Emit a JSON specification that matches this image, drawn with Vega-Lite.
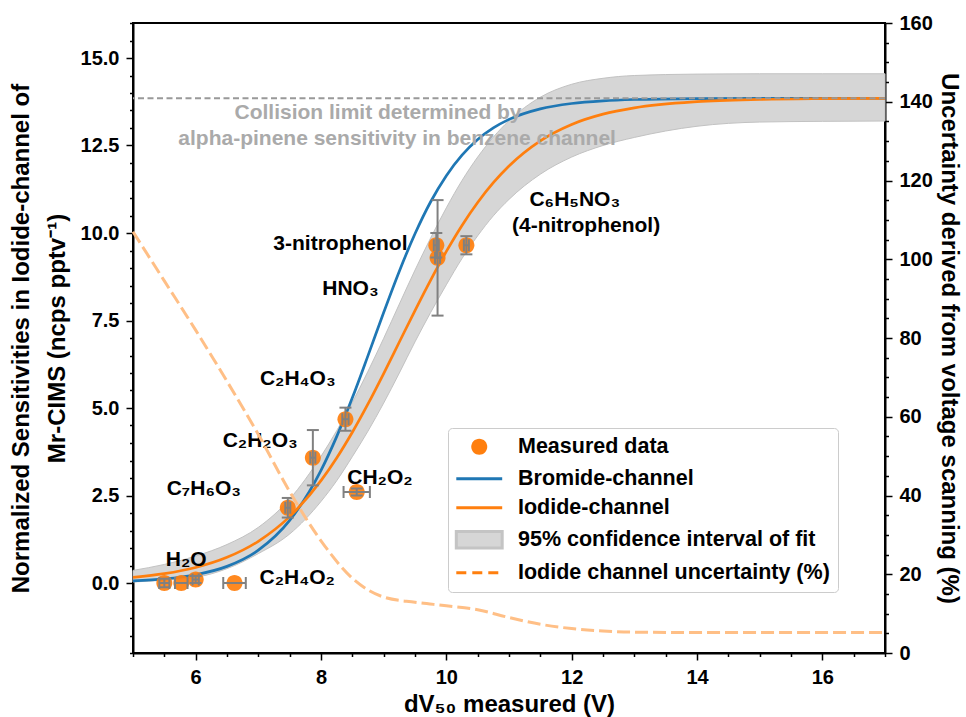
{
  "$schema": "https://vega.github.io/schema/vega-lite/v6.json",
  "width": 752,
  "height": 630,
  "autosize": {"type": "none"},
  "padding": {"left": 133, "top": 23, "right": 81, "bottom": 64},
  "background": "white",
  "config": {
    "font": "Liberation Sans",
    "view": {"stroke": "black", "strokeWidth": 2},
    "axis": {
      "domainColor": "black", "domainWidth": 2, "tickColor": "black", "tickWidth": 1.5,
      "labelColor": "black", "labelFontSize": 20, "labelFontWeight": "bold", "labelFont": "Liberation Sans",
      "titleFontSize": 24, "titleFontWeight": "bold", "titleColor": "black", "titleFont": "Liberation Sans",
      "grid": false, "labelOverlap": false, "labelFlush": false, "labelPadding": 6
    }
  },
  "datasets": {
    "curves": [
      {"x": 5, "orange": 0.159, "blue": 0.058, "upper": 0.36, "lower": 0.03},
      {"x": 5.5, "orange": 0.267, "blue": 0.117, "upper": 0.53, "lower": 0.08},
      {"x": 6, "orange": 0.444, "blue": 0.237, "upper": 0.77, "lower": 0.16},
      {"x": 6.5, "orange": 0.733, "blue": 0.475, "upper": 1.1, "lower": 0.41},
      {"x": 7, "orange": 1.192, "blue": 0.937, "upper": 1.59, "lower": 0.84},
      {"x": 7.5, "orange": 1.897, "blue": 1.788, "upper": 2.4, "lower": 1.4},
      {"x": 8, "orange": 2.925, "blue": 3.218, "upper": 3.62, "lower": 2.33},
      {"x": 8.25, "orange": 3.572, "blue": 4.182, "upper": 4.35, "lower": 2.92},
      {"x": 8.5, "orange": 4.308, "blue": 5.29, "upper": 5.16, "lower": 3.61},
      {"x": 8.75, "orange": 5.118, "blue": 6.496, "upper": 6.05, "lower": 4.34},
      {"x": 9, "orange": 5.985, "blue": 7.729, "upper": 6.99, "lower": 5.14},
      {"x": 9.25, "orange": 6.885, "blue": 8.91, "upper": 7.97, "lower": 6.0},
      {"x": 9.5, "orange": 7.785, "blue": 9.978, "upper": 8.94, "lower": 6.89},
      {"x": 9.75, "orange": 8.656, "blue": 10.893, "upper": 9.86, "lower": 7.73},
      {"x": 10, "orange": 9.473, "blue": 11.639, "upper": 10.72, "lower": 8.52},
      {"x": 10.25, "orange": 10.217, "blue": 12.225, "upper": 11.5, "lower": 9.27},
      {"x": 10.5, "orange": 10.872, "blue": 12.672, "upper": 12.17, "lower": 9.92},
      {"x": 10.75, "orange": 11.437, "blue": 13.003, "upper": 12.74, "lower": 10.49},
      {"x": 11, "orange": 11.914, "blue": 13.247, "upper": 13.21, "lower": 10.96},
      {"x": 11.5, "orange": 12.633, "blue": 13.548, "upper": 13.88, "lower": 11.68},
      {"x": 12, "orange": 13.102, "blue": 13.7, "upper": 14.25, "lower": 12.17},
      {"x": 12.5, "orange": 13.396, "blue": 13.776, "upper": 14.42, "lower": 12.5},
      {"x": 13, "orange": 13.577, "blue": 13.814, "upper": 14.5, "lower": 12.73},
      {"x": 14, "orange": 13.753, "blue": 13.841, "upper": 14.54, "lower": 13.05},
      {"x": 15, "orange": 13.816, "blue": 13.848, "upper": 14.55, "lower": 13.17},
      {"x": 16, "orange": 13.838, "blue": 13.85, "upper": 14.55, "lower": 13.19},
      {"x": 17, "orange": 13.846, "blue": 13.85, "upper": 14.55, "lower": 13.2}
    ],
    "points": [
      {"x": 5.5, "y": 0.0, "series": "Measured data"},
      {"x": 5.77, "y": 0.0, "series": "Measured data"},
      {"x": 6.0, "y": 0.1, "series": "Measured data"},
      {"x": 6.62, "y": 0.0, "series": "Measured data"},
      {"x": 7.47, "y": 2.15, "series": "Measured data"},
      {"x": 7.87, "y": 3.58, "series": "Measured data"},
      {"x": 8.39, "y": 4.68, "series": "Measured data"},
      {"x": 8.57, "y": 2.6, "series": "Measured data"},
      {"x": 9.84, "y": 9.65, "series": "Measured data"},
      {"x": 9.86, "y": 9.29, "series": "Measured data"},
      {"x": 10.32, "y": 9.65, "series": "Measured data"}
    ],
    "yerr": [
      {"x": 5.5, "ylo": -0.12, "yhi": 0.12},
      {"x": 6.0, "ylo": 0.0, "yhi": 0.2},
      {"x": 7.47, "ylo": 1.87, "yhi": 2.43},
      {"x": 7.87, "ylo": 2.79, "yhi": 4.37},
      {"x": 8.39, "ylo": 4.35, "yhi": 5.01},
      {"x": 8.57, "ylo": 2.5, "yhi": 2.7},
      {"x": 9.84, "ylo": 9.3, "yhi": 10.0},
      {"x": 9.86, "ylo": 7.64, "yhi": 10.94},
      {"x": 10.32, "ylo": 9.39, "yhi": 9.91}
    ],
    "xerr": [
      {"y": 0.0, "xlo": 5.42, "xhi": 5.58},
      {"y": 0.0, "xlo": 5.67, "xhi": 5.87},
      {"y": 0.1, "xlo": 5.95, "xhi": 6.05},
      {"y": 0.0, "xlo": 6.44, "xhi": 6.8},
      {"y": 2.15, "xlo": 7.43, "xhi": 7.51},
      {"y": 3.58, "xlo": 7.83, "xhi": 7.91},
      {"y": 4.68, "xlo": 8.34, "xhi": 8.44},
      {"y": 2.6, "xlo": 8.36, "xhi": 8.78},
      {"y": 9.65, "xlo": 9.8, "xhi": 9.88},
      {"y": 9.29, "xlo": 9.82, "xhi": 9.9},
      {"y": 9.65, "xlo": 10.28, "xhi": 10.36}
    ],
    "labels": [
      {"x": 8.31, "y": 9.7, "label": "3-nitrophenol"},
      {"x": 8.47, "y": 8.41, "label": "HNO₃"},
      {"x": 7.63, "y": 5.83, "label": "C₂H₄O₃"},
      {"x": 7.03, "y": 4.06, "label": "C₂H₂O₃"},
      {"x": 6.13, "y": 2.68, "label": "C₇H₆O₃"},
      {"x": 8.94, "y": 3.01, "label": "CH₂O₂"},
      {"x": 5.85, "y": 0.67, "label": "H₂O"},
      {"x": 7.62, "y": 0.14, "label": "C₂H₄O₂"},
      {"x": 12.05, "y": 10.94, "label": "C₆H₅NO₃"},
      {"x": 12.23, "y": 10.19, "label": "(4-nitrophenol)"}
    ],
    "notes": [
      {"x": 8.91, "y": 13.42, "label": "Collision limit determined by"},
      {"x": 9.215, "y": 12.7, "label": "alpha-pinene sensitivity in benzene channel"}
    ],
    "limit": [{"y": 13.85}],
    "unc": [
      {"x": 5, "u": 107},
      {"x": 5.5, "u": 94.5},
      {"x": 6, "u": 82},
      {"x": 6.5, "u": 69},
      {"x": 7, "u": 55.5},
      {"x": 7.5, "u": 41},
      {"x": 8, "u": 28.5},
      {"x": 8.5, "u": 19},
      {"x": 9, "u": 14.2},
      {"x": 9.5, "u": 12.9},
      {"x": 10, "u": 12},
      {"x": 10.5, "u": 11},
      {"x": 11, "u": 9},
      {"x": 11.5, "u": 7.3},
      {"x": 12, "u": 6.2},
      {"x": 12.5, "u": 5.6},
      {"x": 13, "u": 5.3},
      {"x": 14, "u": 5.2},
      {"x": 15, "u": 5.2},
      {"x": 16, "u": 5.2},
      {"x": 17, "u": 5.2}
    ]
  },
  "layer": [
    {
      "layer": [
        {
          "data": {"name": "curves"},
          "mark": {"type": "area", "fill": "#d6d6d6", "stroke": "#c2c2c2", "strokeWidth": 1, "interpolate": "monotone"},
          "encoding": {
            "x": {"field": "x", "type": "quantitative", "scale": {"domain": [5, 17], "nice": false, "zero": false},
              "axis": {
                "values": [5, 5.5, 6, 6.5, 7, 7.5, 8, 8.5, 9, 9.5, 10, 10.5, 11, 11.5, 12, 12.5, 13, 13.5, 14, 14.5, 15, 15.5, 16, 16.5, 17],
                "tickCount": 25,
                "labelExpr": "datum.value % 2 === 0 ? format(datum.value, 'd') : ''",
                "tickSize": {"condition": {"test": "datum.value % 2 === 0", "value": 7}, "value": 3.5},
                "labelFontSize": {"condition": {"test": "datum.value % 2 === 0", "value": 20}, "value": 0},
                "labelOverlap": false,
                "title": "dV₅₀ measured (V)", "titlePadding": 5, "labelPadding": 7
              }},
            "y": {"field": "upper", "type": "quantitative", "scale": {"domain": [-2, 16], "nice": false, "zero": false},
              "axis": {
                "values": [-2, -1.5, -1, -0.5, 0, 0.5, 1, 1.5, 2, 2.5, 3, 3.5, 4, 4.5, 5, 5.5, 6, 6.5, 7, 7.5, 8, 8.5, 9, 9.5, 10, 10.5, 11, 11.5, 12, 12.5, 13, 13.5, 14, 14.5, 15, 15.5, 16],
                "tickCount": 37,
                "labelExpr": "datum.value % 2.5 === 0 ? format(datum.value, '.1f') : ''",
                "tickSize": {"condition": {"test": "datum.value % 2.5 === 0", "value": 7}, "value": 3.5},
                "labelFontSize": {"condition": {"test": "datum.value % 2.5 === 0", "value": 20}, "value": 0},
                "labelOverlap": false,
                "title": ["Normalized Sensitivities in Iodide-channel of", "Mr-CIMS (ncps pptv⁻¹)"],
                "titleLineHeight": 36, "titlePadding": 11, "labelPadding": 7
              }},
            "y2": {"field": "lower"}
          }
        },
        {
          "data": {"name": "curves"},
          "mark": {"type": "line", "color": "#1f77b4", "strokeWidth": 2.7, "interpolate": "monotone"},
          "encoding": {
            "x": {"field": "x", "type": "quantitative"},
            "y": {"field": "blue", "type": "quantitative"}
          }
        },
        {
          "data": {"name": "curves"},
          "mark": {"type": "line", "color": "#ff7f0e", "strokeWidth": 2.7, "interpolate": "monotone"},
          "encoding": {
            "x": {"field": "x", "type": "quantitative"},
            "y": {"field": "orange", "type": "quantitative"}
          }
        },
        {
          "data": {"name": "points"},
          "mark": {"type": "point", "filled": true, "opacity": 0.92, "size": 324},
          "encoding": {
            "x": {"field": "x", "type": "quantitative"},
            "y": {"field": "y", "type": "quantitative"},
            "shape": {
              "field": "series", "type": "nominal",
              "scale": {
                "domain": ["Measured data", "Bromide-channel", "Iodide-channel", "95% confidence interval of fit", "Iodide channel uncertainty (%)"],
                "range": ["M0.89,0A0.89,0.89,0,1,1,-0.89,0A0.89,0.89,0,1,1,0.89,0Z", "M-2.55,0L2.55,0", "M-2.55,0L2.55,0", "M-2.55,-0.92L2.55,-0.92L2.55,0.92L-2.55,0.92Z", "M-2.55,0L2.55,0"]
              },
              "legend": {
                "title": null, "orient": "none", "legendX": 315, "legendY": 405, "direction": "vertical",
                "fillColor": "rgba(255,255,255,0.85)", "strokeColor": "#cccccc", "cornerRadius": 4, "padding": 8,
                "labelFont": "Liberation Sans", "labelFontSize": 21.5, "labelFontWeight": "bold", "labelColor": "black", "labelLimit": 500,
                "labelOffset": 28, "symbolOffset": 12.5, "rowPadding": 6, "symbolSize": 324, "symbolStrokeWidth": 3, "symbolOpacity": 1
              }
            },
            "fill": {
              "field": "series", "type": "nominal",
              "scale": {
                "domain": ["Measured data", "Bromide-channel", "Iodide-channel", "95% confidence interval of fit", "Iodide channel uncertainty (%)"],
                "range": ["#ff7f0e", "transparent", "transparent", "#d6d6d6", "transparent"]
              },
              "legend": {
                "title": null, "orient": "none", "legendX": 315, "legendY": 405, "direction": "vertical",
                "fillColor": "rgba(255,255,255,0.85)", "strokeColor": "#cccccc", "cornerRadius": 4, "padding": 8,
                "labelFont": "Liberation Sans", "labelFontSize": 21.5, "labelFontWeight": "bold", "labelColor": "black", "labelLimit": 500,
                "labelOffset": 28, "symbolOffset": 12.5, "rowPadding": 6, "symbolSize": 324, "symbolStrokeWidth": 3, "symbolOpacity": 1
              }
            },
            "stroke": {
              "field": "series", "type": "nominal",
              "scale": {
                "domain": ["Measured data", "Bromide-channel", "Iodide-channel", "95% confidence interval of fit", "Iodide channel uncertainty (%)"],
                "range": ["transparent", "#1f77b4", "#ff7f0e", "#c4c4c4", "#ff7f0e"]
              },
              "legend": {
                "title": null, "orient": "none", "legendX": 315, "legendY": 405, "direction": "vertical",
                "fillColor": "rgba(255,255,255,0.85)", "strokeColor": "#cccccc", "cornerRadius": 4, "padding": 8,
                "labelFont": "Liberation Sans", "labelFontSize": 21.5, "labelFontWeight": "bold", "labelColor": "black", "labelLimit": 500,
                "labelOffset": 28, "symbolOffset": 12.5, "rowPadding": 6, "symbolSize": 324, "symbolStrokeWidth": 3, "symbolOpacity": 1
              }
            },
            "strokeDash": {
              "field": "series", "type": "nominal",
              "scale": {
                "domain": ["Measured data", "Bromide-channel", "Iodide-channel", "95% confidence interval of fit", "Iodide channel uncertainty (%)"],
                "range": [[1, 0], [1, 0], [1, 0], [1, 0], [10, 6]]
              },
              "legend": {
                "title": null, "orient": "none", "legendX": 315, "legendY": 405, "direction": "vertical",
                "fillColor": "rgba(255,255,255,0.85)", "strokeColor": "#cccccc", "cornerRadius": 4, "padding": 8,
                "labelFont": "Liberation Sans", "labelFontSize": 21.5, "labelFontWeight": "bold", "labelColor": "black", "labelLimit": 500,
                "labelOffset": 28, "symbolOffset": 12.5, "rowPadding": 6, "symbolSize": 324, "symbolStrokeWidth": 3, "symbolOpacity": 1
              }
            }
          }
        },
        {
          "data": {"name": "yerr"},
          "mark": {"type": "rule", "color": "#808080", "strokeWidth": 2},
          "encoding": {
            "x": {"field": "x", "type": "quantitative"},
            "y": {"field": "ylo", "type": "quantitative"},
            "y2": {"field": "yhi"}
          }
        },
        {
          "data": {"name": "yerr"},
          "mark": {"type": "tick", "orient": "horizontal", "color": "#808080", "size": 12, "thickness": 2, "opacity": 1},
          "encoding": {
            "x": {"field": "x", "type": "quantitative"},
            "y": {"field": "ylo", "type": "quantitative"}
          }
        },
        {
          "data": {"name": "yerr"},
          "mark": {"type": "tick", "orient": "horizontal", "color": "#808080", "size": 12, "thickness": 2, "opacity": 1},
          "encoding": {
            "x": {"field": "x", "type": "quantitative"},
            "y": {"field": "yhi", "type": "quantitative"}
          }
        },
        {
          "data": {"name": "xerr"},
          "mark": {"type": "rule", "color": "#808080", "strokeWidth": 2},
          "encoding": {
            "y": {"field": "y", "type": "quantitative"},
            "x": {"field": "xlo", "type": "quantitative"},
            "x2": {"field": "xhi"}
          }
        },
        {
          "data": {"name": "xerr"},
          "mark": {"type": "tick", "orient": "vertical", "color": "#808080", "size": 12, "thickness": 2, "opacity": 1},
          "encoding": {
            "y": {"field": "y", "type": "quantitative"},
            "x": {"field": "xlo", "type": "quantitative"}
          }
        },
        {
          "data": {"name": "xerr"},
          "mark": {"type": "tick", "orient": "vertical", "color": "#808080", "size": 12, "thickness": 2, "opacity": 1},
          "encoding": {
            "y": {"field": "y", "type": "quantitative"},
            "x": {"field": "xhi", "type": "quantitative"}
          }
        },
        {
          "data": {"name": "limit"},
          "mark": {"type": "rule", "color": "#999999", "strokeWidth": 2, "strokeDash": [6, 3.5]},
          "encoding": {
            "y": {"field": "y", "type": "quantitative"}
          }
        },
        {
          "data": {"name": "labels"},
          "mark": {"type": "text", "font": "Liberation Sans", "fontSize": 21, "fontWeight": "bold", "color": "black", "align": "center", "baseline": "middle"},
          "encoding": {
            "x": {"field": "x", "type": "quantitative"},
            "y": {"field": "y", "type": "quantitative"},
            "text": {"field": "label"}
          }
        },
        {
          "data": {"name": "notes"},
          "mark": {"type": "text", "font": "Liberation Sans", "fontSize": 21, "fontWeight": "bold", "color": "#aaaaaa", "align": "center", "baseline": "middle"},
          "encoding": {
            "x": {"field": "x", "type": "quantitative"},
            "y": {"field": "y", "type": "quantitative"},
            "text": {"field": "label"}
          }
        }
      ]
    },
    {
      "data": {"name": "unc"},
      "mark": {"type": "line", "color": "#ffbf86", "strokeWidth": 3, "strokeDash": [13, 5], "interpolate": "monotone"},
      "encoding": {
        "x": {"field": "x", "type": "quantitative"},
        "y": {"field": "u", "type": "quantitative", "scale": {"domain": [0, 160], "nice": false, "zero": false},
          "axis": {
            "orient": "right",
            "values": [0, 5, 10, 15, 20, 25, 30, 35, 40, 45, 50, 55, 60, 65, 70, 75, 80, 85, 90, 95, 100, 105, 110, 115, 120, 125, 130, 135, 140, 145, 150, 155, 160],
            "tickCount": 33,
            "labelExpr": "datum.value % 20 === 0 ? format(datum.value, 'd') : ''",
            "tickSize": {"condition": {"test": "datum.value % 20 === 0", "value": 7}, "value": 3.5},
            "labelFontSize": {"condition": {"test": "datum.value % 20 === 0", "value": 20}, "value": 0},
            "labelOverlap": false,
            "title": "Uncertainty derived from voltage scanning (%)",
            "titlePadding": 4, "labelPadding": 7
          }}
      }
    }
  ],
  "resolve": {"scale": {"y": "independent"}}
}
